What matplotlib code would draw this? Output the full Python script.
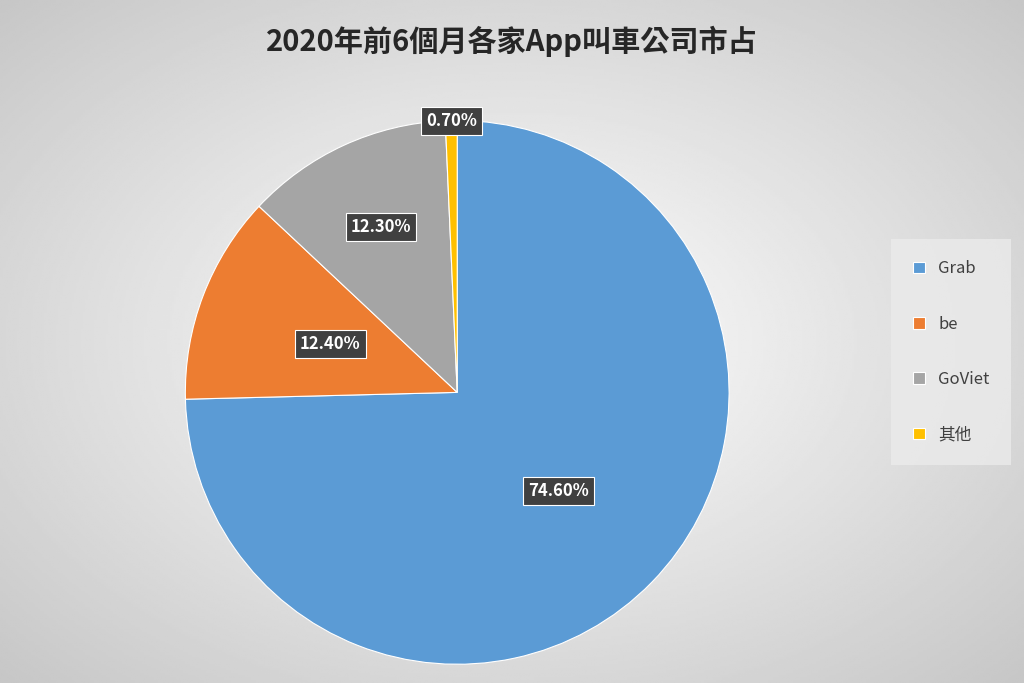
import numpy as np
import matplotlib.pyplot as plt

plt.rcParams['font.family'] = ['Noto Sans CJK TC', 'DejaVu Sans']

labels = ['Grab', 'be', 'GoViet', '其他']
shares = [74.6, 12.4, 12.3, 0.7]
colors = ['#5b9bd5', '#ed7d31', '#a5a5a5', '#ffc000']
label_dist = [0.52, 0.5, 0.67, 1.0]

fig = plt.figure(figsize=(10.24, 6.83), dpi=100)

# radial grey background
bg = fig.add_axes([0, 0, 1, 1], zorder=-10)
yy, xx = np.mgrid[-1:1:300j, -1:1:450j]
r = np.sqrt(xx**2 + yy**2)
bg.imshow(1 - 0.22 * np.clip(r / 1.4, 0, 1), cmap='gray', vmin=0, vmax=1, aspect='auto')
bg.axis('off')

ax = fig.add_axes([0.181, 0.027, 0.531, 0.797])
wedges, _ = ax.pie(shares, colors=colors, startangle=90, counterclock=False,
                   wedgeprops=dict(edgecolor='white', linewidth=0.8))
ax.set_xlim(-1, 1)
ax.set_ylim(-1, 1)
ax.set_aspect('equal')

for w, v, d in zip(wedges, shares, label_dist):
    ang = np.deg2rad((w.theta1 + w.theta2) / 2)
    ax.text(d * np.cos(ang), d * np.sin(ang), f'{v:.2f}%', ha='center', va='center',
            color='white', fontsize=12, fontweight='bold', clip_on=False,
            bbox=dict(boxstyle='square,pad=0.3', fc='#404040', ec='white', lw=0.8))

fig.text(0.5, 0.94, '2020年前6個月各家App叫車公司市占', ha='center', va='center',
         fontsize=21, fontweight='bold', color='#262626')

leg = fig.legend(wedges, labels, loc='center', bbox_to_anchor=(0.929, 0.485),
                 fontsize=12, frameon=True, fancybox=False, handlelength=0.7,
                 handleheight=0.7, labelspacing=2.3, borderpad=1.3, labelcolor='#404040')
leg.get_frame().set_facecolor('#ebebeb')
leg.get_frame().set_edgecolor('none')

fig.savefig('out.png', dpi=100)
